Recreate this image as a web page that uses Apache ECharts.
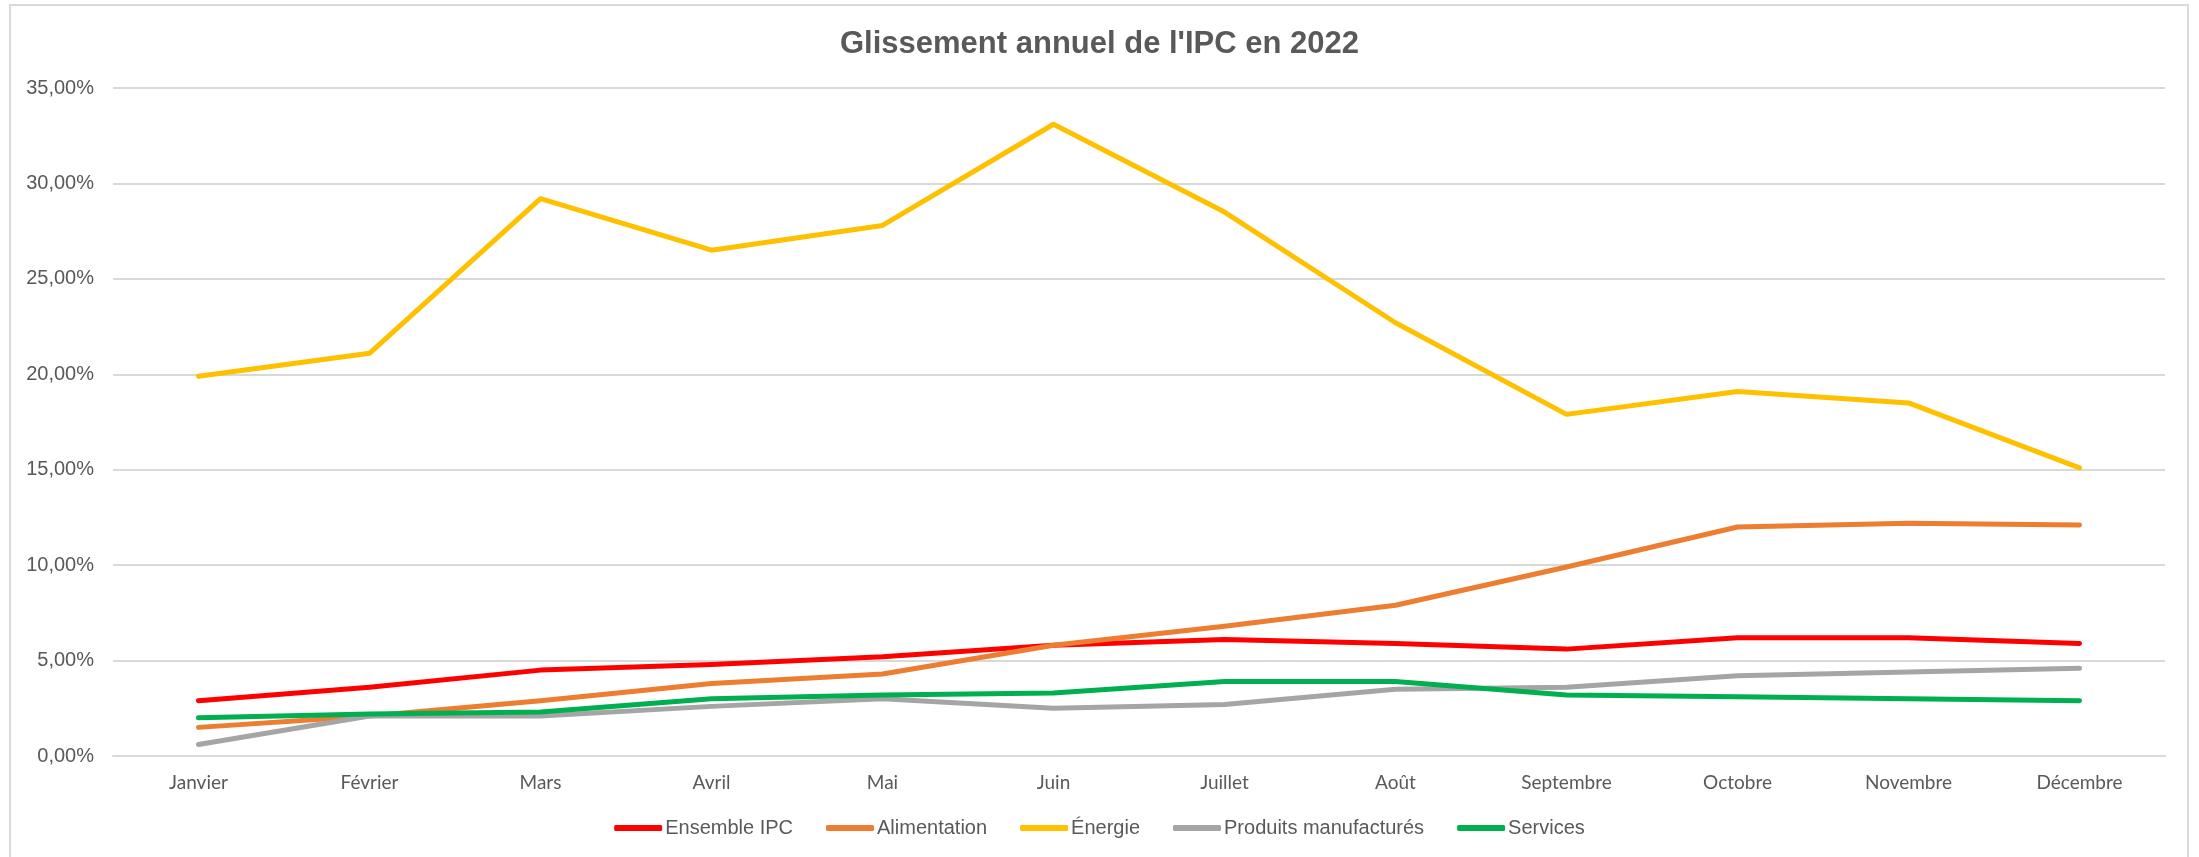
<!DOCTYPE html>
<html>
<head>
<meta charset="utf-8">
<script src="https://cdn.jsdelivr.net/npm/echarts@6/dist/echarts.min.js"></script>
<style>
  html, body { margin: 0; padding: 0; background: #fff; }
  #chart { width: 2199px; height: 857px; }
</style>
</head>
<body>
<div id="chart"></div>
<script>
// Months (x axis)
const months = ['Janvier', 'Février', 'Mars', 'Avril', 'Mai', 'Juin', 'Juillet', 'Août', 'Septembre', 'Octobre', 'Novembre', 'Décembre']

// Year-on-year change, in %
const ensembleIPC = [2.9, 3.6, 4.5, 4.8, 5.2, 5.8, 6.1, 5.9, 5.6, 6.2, 6.2, 5.9]
const alimentation = [1.5, 2.1, 2.9, 3.8, 4.3, 5.8, 6.8, 7.9, 9.9, 12.0, 12.2, 12.1]
const energie = [19.9, 21.1, 29.2, 26.5, 27.8, 33.1, 28.5, 22.7, 17.9, 19.1, 18.5, 15.1]
const produitsManufactures = [0.6, 2.1, 2.1, 2.6, 3.0, 2.5, 2.7, 3.5, 3.6, 4.2, 4.4, 4.6]
const services = [2.0, 2.2, 2.3, 3.0, 3.2, 3.3, 3.9, 3.9, 3.2, 3.1, 3.0, 2.9]

const seriesDefs = [
  { name: 'Ensemble IPC', data: ensembleIPC, color: '#FF0000' },
  { name: 'Alimentation', data: alimentation, color: '#ED7D31' },
  { name: 'Énergie', data: energie, color: '#FFC000' },
  { name: 'Produits manufacturés', data: produitsManufactures, color: '#A5A5A5' },
  { name: 'Services', data: services, color: '#00B050' },
]

const textColor = '#595959'
const gridColor = '#D9D9D9'

const chart = echarts.init(document.getElementById('chart'))

chart.setOption({
  animation: false,
  backgroundColor: '#fff',
  title: {
    text: "Glissement annuel de l'IPC en 2022",
    left: 'center',
    top: 24,
    textStyle: {
      fontFamily: 'Liberation Sans',
      fontSize: 31,
      fontWeight: 'bold',
      color: textColor,
    },
  },
  // chart area border, like the Excel frame
  graphic: [
    {
      type: 'rect',
      shape: { x: 10, y: 5, width: 2178, height: 870 },
      style: { fill: 'none', stroke: gridColor, lineWidth: 2 },
      silent: true,
    },
  ],
  grid: {
    left: 113,
    right: 34,
    top: 88,
    bottom: 101,
  },
  legend: {
    left: 'center',
    top: 813,
    icon: 'roundRect',
    itemWidth: 48,
    itemHeight: 6,
    itemGap: 33,
    textStyle: {
      fontFamily: 'Liberation Sans',
      fontSize: 20,
      color: textColor,
      padding: [0, 0, 0, -2],
    },
  },
  xAxis: {
    type: 'category',
    data: months,
    boundaryGap: true,
    axisLine: { lineStyle: { color: gridColor, width: 2 } },
    axisTick: { show: false },
    axisLabel: {
      margin: 17,
      fontFamily: 'Lato',
      fontSize: 19,
      color: textColor,
    },
  },
  yAxis: {
    type: 'value',
    min: 0,
    max: 35,
    interval: 5,
    axisLine: { show: false },
    axisTick: { show: false },
    splitLine: { lineStyle: { color: gridColor, width: 2 } },
    axisLabel: {
      margin: 19,
      fontFamily: 'Liberation Sans',
      fontSize: 20,
      color: textColor,
      formatter: v => v.toFixed(2).replace('.', ',') + '%',
    },
  },
  series: seriesDefs.map(s => ({
    name: s.name,
    type: 'line',
    data: s.data,
    symbol: 'none',
    color: s.color,
    itemStyle: { color: s.color },
    lineStyle: { width: 5, color: s.color, cap: 'round', join: 'round' },
  })),
})
</script>
</body>
</html>
